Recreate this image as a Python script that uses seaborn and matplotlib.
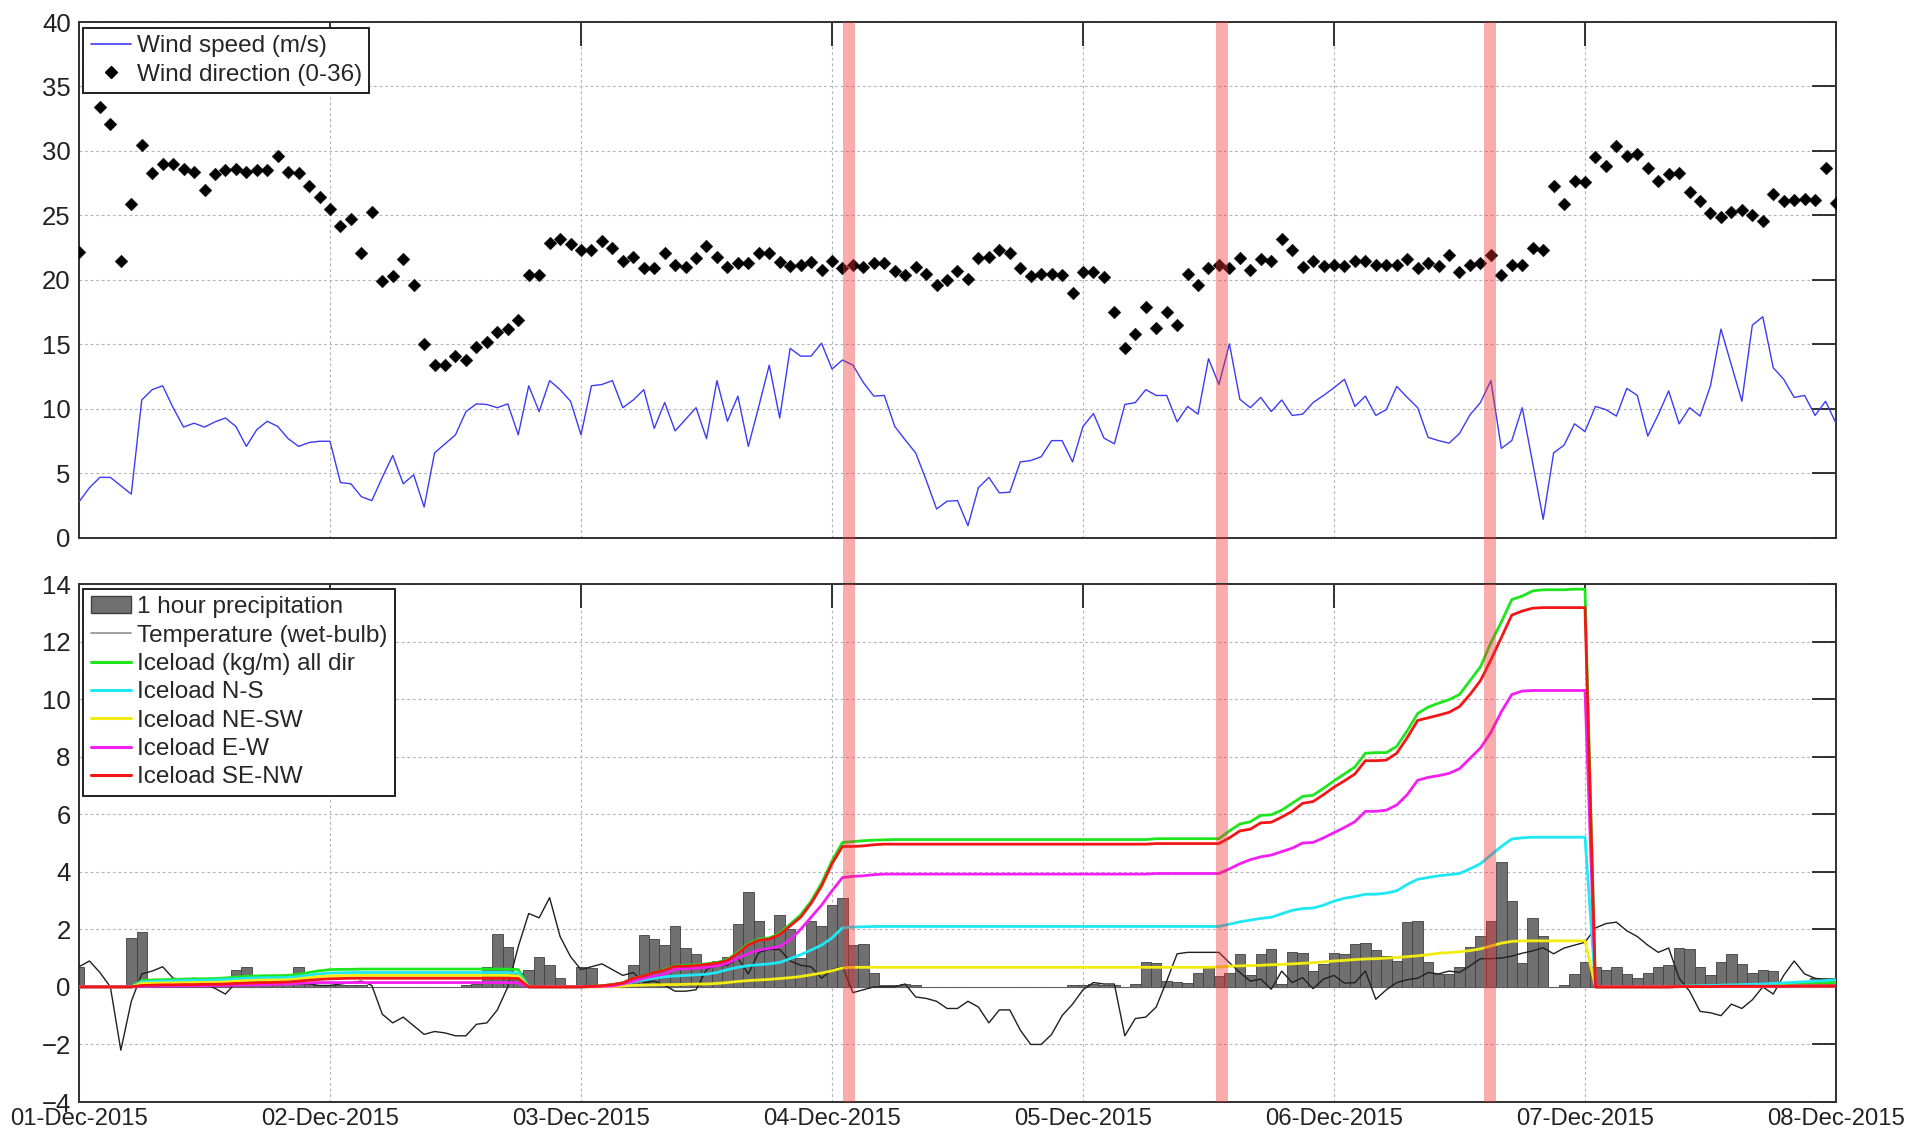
import numpy as np
import pandas as pd
import matplotlib
matplotlib.use("Agg")
import matplotlib.pyplot as plt
from matplotlib import font_manager
from matplotlib.lines import Line2D
from matplotlib.patches import Patch
import seaborn as sns

# ---------------- data (hourly, 01-Dec-2015 00:00 .. 08-Dec-2015 00:00) ----------------
hours = list(range(169))
tick_hours = [0, 24, 48, 72, 96, 120, 144, 168]
tick_labels = ['01-Dec-2015', '02-Dec-2015', '03-Dec-2015', '04-Dec-2015',
               '05-Dec-2015', '06-Dec-2015', '07-Dec-2015', '08-Dec-2015']
event_hours = [73.6, 109.3, 134.9]

wind_speed = [
    2.8, 3.9, 4.7, 4.7, 4.05, 3.4, 10.7, 11.5, 11.8, 10.1,
    8.6, 8.9, 8.6, 9.0, 9.3, 8.65, 7.1, 8.4, 9.05, 8.65,
    7.7, 7.1, 7.4, 7.5, 7.5, 4.3, 4.2, 3.2, 2.9, 4.7,
    6.4, 4.2, 4.9, 2.4, 6.6, 7.3, 8.0, 9.8, 10.4, 10.35,
    10.1, 10.4, 8.0, 11.8, 9.8, 12.2, 11.5, 10.6, 8.0, 11.8,
    11.9, 12.2, 10.1, 10.7, 11.5, 8.5, 10.5, 8.3, 9.2, 10.1,
    7.7, 12.2, 9.05, 11.0, 7.1, 10.2, 13.4, 9.3, 14.7, 14.1,
    14.1, 15.1, 13.1, 13.8, 13.4, 12.05, 11.0, 11.05, 8.65, 7.6,
    6.6, 4.5, 2.25, 2.85, 2.9, 0.95, 3.9, 4.7, 3.5, 3.55,
    5.9, 6.0, 6.3, 7.55, 7.55, 5.9, 8.65, 9.65, 7.75, 7.3,
    10.35, 10.5, 11.5, 11.05, 11.05, 9.0, 10.2, 9.6, 13.9, 11.9,
    15.05, 10.75, 10.1, 10.9, 9.8, 10.7, 9.5, 9.6, 10.5, 11.05,
    11.65, 12.3, 10.2, 11.0, 9.5, 9.95, 11.75, 10.9, 10.1, 7.8,
    7.55, 7.35, 8.1, 9.55, 10.5, 12.2, 6.95, 7.55, 10.1, 5.8,
    1.45, 6.6, 7.2, 8.85, 8.25, 10.2, 9.95, 9.45, 11.6, 11.05,
    7.9, 9.55, 11.4, 8.85, 10.1, 9.45, 11.8, 16.2, 13.4, 10.6,
    16.5, 17.15, 13.2, 12.3, 10.9, 11.05, 9.5, 10.6, 8.9]

wind_dir = [
    22.2, np.nan, 33.4, 32.1, 21.5, 25.9, 30.5, 28.3, 29.0, 29.0,
    28.6, 28.4, 27.0, 28.2, 28.5, 28.6, 28.4, 28.5, 28.5, 29.6,
    28.4, 28.3, 27.3, 26.4, 25.5, 24.2, 24.7, 22.1, 25.3, 19.9,
    20.3, 21.6, 19.6, 15.0, 13.4, 13.4, 14.1, 13.8, 14.8, 15.2,
    16.0, 16.2, 16.9, 20.4, 20.4, 22.9, 23.2, 22.8, 22.3, 22.3,
    23.0, 22.5, 21.5, 21.8, 20.9, 20.9, 22.1, 21.2, 21.0, 21.7,
    22.6, 21.8, 21.0, 21.3, 21.3, 22.1, 22.1, 21.4, 21.1, 21.2,
    21.4, 20.8, 21.5, 20.9, 21.2, 21.0, 21.3, 21.3, 20.7, 20.4,
    21.0, 20.5, 19.6, 20.0, 20.7, 20.1, 21.7, 21.8, 22.3, 22.1,
    20.9, 20.3, 20.5, 20.5, 20.4, 19.0, 20.6, 20.6, 20.2, 17.5,
    14.7, 15.8, 17.9, 16.3, 17.5, 16.5, 20.5, 19.6, 20.9, 21.2,
    20.9, 21.7, 20.8, 21.6, 21.5, 23.2, 22.3, 21.0, 21.5, 21.1,
    21.2, 21.1, 21.5, 21.5, 21.2, 21.2, 21.2, 21.6, 20.9, 21.3,
    21.1, 21.9, 20.6, 21.2, 21.3, 21.9, 20.4, 21.2, 21.2, 22.5,
    22.3, 27.3, 25.9, 27.7, 27.6, 29.5, 28.8, 30.4, 29.6, 29.8,
    28.7, 27.7, 28.2, 28.3, 26.8, 26.1, 25.2, 24.9, 25.3, 25.4,
    25.0, 24.6, 26.7, 26.1, 26.2, 26.3, 26.2, 28.7, 26.0]

precip = [
    0.7, 0.0, 0.0, 0.0, 0.0, 1.7, 1.9, 0.05, 0.05, 0.05,
    0.05, 0.1, 0.05, 0.05, 0.1, 0.58, 0.7, 0.1, 0.1, 0.05,
    0.1, 0.7, 0.1, 0.05, 0.05, 0.05, 0.05, 0.05, 0.0, 0.0,
    0.0, 0.0, 0.0, 0.0, 0.0, 0.0, 0.0, 0.05, 0.1, 0.68,
    1.85, 1.38, 0.5, 0.6, 1.05, 0.75, 0.3, 0.0, 0.7, 0.65,
    0.0, 0.0, 0.15, 0.75, 1.8, 1.65, 1.45, 2.1, 1.35, 1.15,
    0.75, 0.9, 1.05, 2.2, 3.3, 2.3, 1.75, 2.5, 2.0, 1.0,
    2.3, 2.1, 2.85, 3.1, 1.45, 1.5, 0.5, 0.05, 0.05, 0.1,
    0.05, 0.0, 0.0, 0.0, 0.0, 0.0, 0.0, 0.0, 0.0, 0.0,
    0.0, 0.0, 0.0, 0.0, 0.0, 0.05, 0.08, 0.1, 0.08, 0.05,
    0.0, 0.1, 0.85, 0.84, 0.2, 0.18, 0.15, 0.5, 0.67, 0.38,
    0.5, 1.16, 0.4, 1.16, 1.3, 0.1, 1.22, 1.19, 0.55, 0.8,
    1.19, 1.16, 1.48, 1.51, 1.27, 1.07, 0.9, 2.25, 2.3, 0.87,
    0.46, 0.45, 0.7, 1.38, 1.76, 2.3, 4.35, 3.0, 0.82, 2.4,
    1.78, 0.0, 0.07, 0.45, 0.85, 0.7, 0.6, 0.7, 0.45, 0.3,
    0.5, 0.7, 0.75, 1.35, 1.3, 0.7, 0.4, 0.85, 1.15, 0.8,
    0.5, 0.6, 0.55, 0.1, 0.05, 0.2, 0.3, 0.3, 0.3]

temp_wb = [
    0.7, 0.9, 0.5, 0.0, -2.2, -0.5, 0.45, 0.55, 0.7, 0.3,
    0.25, 0.3, 0.1, -0.05, -0.25, 0.15, 0.2, 0.2, 0.15, 0.1,
    0.15, 0.1, 0.1, 0.05, 0.05, 0.1, 0.15, 0.2, 0.05, -0.95,
    -1.25, -1.05, -1.35, -1.65, -1.55, -1.6, -1.7, -1.7, -1.3, -1.25,
    -0.8, 0.0, 1.4, 2.55, 2.4, 3.1, 1.75, 1.05, 0.6, 0.7,
    0.8, 0.6, 0.4, 0.5, 0.15, 0.2, 0.05, -0.15, -0.15, -0.1,
    0.6, 0.8, 0.75, 1.0, 0.45, 1.2, 1.3, 1.3, 0.9, 0.75,
    0.7, 0.3, 0.6, 0.7, -0.2, -0.1, 0.0, 0.0, 0.0, 0.1,
    -0.35, -0.4, -0.5, -0.75, -0.75, -0.5, -0.7, -1.25, -0.8, -0.8,
    -1.5, -2.0, -2.0, -1.65, -1.0, -0.6, -0.1, 0.15, 0.1, 0.1,
    -1.7, -1.1, -1.05, -0.7, 0.2, 1.15, 1.2, 1.2, 1.2, 1.2,
    0.84, 0.5, 0.2, 0.27, -0.08, 0.55, 0.15, 0.32, -0.06, 0.27,
    0.4, 0.13, 0.15, 0.55, -0.43, -0.1, 0.15, 0.25, 0.3, 0.5,
    0.45, 0.55, 0.5, 0.73, 0.98, 0.98, 1.0, 1.07, 1.17, 1.25,
    1.36, 1.15, 1.35, 1.45, 1.55, 2.05, 2.2, 2.25, 1.95, 1.75,
    1.45, 1.2, 1.35, 0.3, -0.15, -0.85, -0.9, -1.0, -0.6, -0.75,
    -0.45, 0.0, -0.25, 0.4, 0.9, 0.45, 0.3, 0.25, 0.25]

ice_all = [
    0.0, 0.0, 0.0, 0.0, 0.0, 0.0, 0.22, 0.24, 0.25, 0.26,
    0.27, 0.28, 0.28, 0.29, 0.31, 0.34, 0.37, 0.38, 0.39, 0.39,
    0.40, 0.44, 0.50, 0.56, 0.60, 0.61, 0.61, 0.62, 0.62, 0.62,
    0.62, 0.62, 0.62, 0.62, 0.62, 0.62, 0.62, 0.62, 0.62, 0.62,
    0.62, 0.62, 0.60, 0.0, 0.0, 0.0, 0.0, 0.0, 0.0, 0.02,
    0.04, 0.08, 0.14, 0.30, 0.38, 0.50, 0.60, 0.74, 0.75, 0.77,
    0.80, 0.85, 0.95, 1.20, 1.50, 1.66, 1.70, 1.86, 2.18, 2.50,
    2.98, 3.60, 4.38, 5.02, 5.05, 5.08, 5.10, 5.11, 5.12, 5.12,
    5.12, 5.12, 5.12, 5.12, 5.12, 5.12, 5.12, 5.12, 5.12, 5.12,
    5.12, 5.12, 5.12, 5.12, 5.12, 5.12, 5.12, 5.12, 5.12, 5.12,
    5.12, 5.12, 5.12, 5.15, 5.15, 5.15, 5.15, 5.15, 5.15, 5.15,
    5.42, 5.66, 5.74, 5.96, 5.98, 6.14, 6.38, 6.62, 6.66, 6.90,
    7.16, 7.40, 7.64, 8.12, 8.14, 8.14, 8.36, 8.90, 9.50, 9.72,
    9.86, 9.98, 10.16, 10.64, 11.12, 11.96, 12.68, 13.46, 13.58, 13.76,
    13.80, 13.80, 13.80, 13.82, 13.82, 0.0, 0.0, 0.0, 0.0, 0.0,
    0.0, 0.0, 0.0, 0.02, 0.03, 0.03, 0.04, 0.05, 0.05, 0.06,
    0.06, 0.07, 0.08, 0.08, 0.10, 0.12, 0.15, 0.15, 0.15]

ice_ns = [
    0.0, 0.0, 0.0, 0.0, 0.0, 0.0, 0.17, 0.19, 0.20, 0.21,
    0.22, 0.23, 0.23, 0.24, 0.26, 0.28, 0.30, 0.31, 0.32, 0.32,
    0.33, 0.36, 0.41, 0.45, 0.48, 0.49, 0.50, 0.50, 0.50, 0.50,
    0.50, 0.50, 0.50, 0.50, 0.50, 0.50, 0.50, 0.50, 0.50, 0.50,
    0.50, 0.50, 0.48, 0.0, 0.0, 0.0, 0.0, 0.0, 0.0, 0.01,
    0.02, 0.03, 0.08, 0.18, 0.24, 0.30, 0.35, 0.38, 0.40, 0.42,
    0.44, 0.50, 0.60, 0.68, 0.74, 0.77, 0.80, 0.85, 0.98, 1.12,
    1.28, 1.45, 1.70, 2.05, 2.08, 2.09, 2.10, 2.10, 2.10, 2.10,
    2.10, 2.10, 2.10, 2.10, 2.10, 2.10, 2.10, 2.10, 2.10, 2.10,
    2.10, 2.10, 2.10, 2.10, 2.10, 2.10, 2.10, 2.10, 2.10, 2.10,
    2.10, 2.10, 2.10, 2.10, 2.10, 2.10, 2.10, 2.10, 2.10, 2.10,
    2.18, 2.26, 2.32, 2.38, 2.42, 2.54, 2.66, 2.72, 2.74, 2.84,
    2.98, 3.08, 3.14, 3.22, 3.22, 3.26, 3.34, 3.56, 3.74, 3.80,
    3.86, 3.90, 3.94, 4.10, 4.28, 4.58, 4.88, 5.14, 5.18, 5.20,
    5.20, 5.20, 5.20, 5.20, 5.20, 0.0, 0.0, 0.0, 0.0, 0.0,
    0.0, 0.0, 0.0, 0.02, 0.03, 0.04, 0.05, 0.06, 0.07, 0.08,
    0.09, 0.10, 0.12, 0.14, 0.16, 0.18, 0.20, 0.22, 0.25]

ice_nesw = [
    0.0, 0.0, 0.0, 0.0, 0.0, 0.0, 0.12, 0.13, 0.14, 0.14,
    0.15, 0.15, 0.16, 0.16, 0.17, 0.20, 0.22, 0.23, 0.24, 0.24,
    0.25, 0.28, 0.32, 0.36, 0.38, 0.39, 0.40, 0.40, 0.40, 0.40,
    0.40, 0.40, 0.40, 0.40, 0.40, 0.40, 0.40, 0.40, 0.40, 0.40,
    0.40, 0.40, 0.38, 0.0, 0.0, 0.0, 0.0, 0.0, 0.0, 0.0,
    0.0, 0.01, 0.03, 0.05, 0.06, 0.07, 0.08, 0.08, 0.09, 0.10,
    0.10, 0.12, 0.15, 0.19, 0.22, 0.24, 0.26, 0.29, 0.32, 0.36,
    0.42, 0.48, 0.56, 0.66, 0.68, 0.68, 0.68, 0.68, 0.68, 0.68,
    0.68, 0.68, 0.68, 0.68, 0.68, 0.68, 0.68, 0.68, 0.68, 0.68,
    0.68, 0.68, 0.68, 0.68, 0.68, 0.68, 0.68, 0.68, 0.68, 0.68,
    0.68, 0.68, 0.68, 0.68, 0.68, 0.68, 0.68, 0.68, 0.68, 0.69,
    0.72, 0.73, 0.74, 0.75, 0.77, 0.78, 0.80, 0.82, 0.84, 0.87,
    0.90, 0.92, 0.95, 0.97, 0.98, 1.00, 1.02, 1.05, 1.08, 1.12,
    1.17, 1.19, 1.22, 1.26, 1.32, 1.42, 1.52, 1.58, 1.60, 1.60,
    1.60, 1.60, 1.60, 1.60, 1.60, 0.0, 0.0, 0.0, 0.0, 0.0,
    0.0, 0.0, 0.0, 0.01, 0.01, 0.01, 0.01, 0.02, 0.02, 0.02,
    0.02, 0.02, 0.02, 0.03, 0.03, 0.03, 0.03, 0.03, 0.03]

ice_ew = [
    0.0, 0.0, 0.0, 0.0, 0.0, 0.0, 0.02, 0.03, 0.03, 0.03,
    0.04, 0.04, 0.04, 0.05, 0.05, 0.06, 0.07, 0.07, 0.08, 0.09,
    0.10, 0.12, 0.14, 0.15, 0.15, 0.15, 0.15, 0.15, 0.15, 0.15,
    0.15, 0.15, 0.15, 0.15, 0.15, 0.15, 0.15, 0.15, 0.15, 0.15,
    0.15, 0.15, 0.14, 0.0, 0.0, 0.0, 0.0, 0.0, 0.0, 0.01,
    0.02, 0.03, 0.10, 0.20, 0.30, 0.38, 0.45, 0.62, 0.63, 0.65,
    0.68, 0.74, 0.82, 1.00, 1.16, 1.28, 1.34, 1.40, 1.64, 2.00,
    2.42, 2.84, 3.34, 3.80, 3.84, 3.86, 3.90, 3.92, 3.92, 3.92,
    3.92, 3.92, 3.92, 3.92, 3.92, 3.92, 3.92, 3.92, 3.92, 3.92,
    3.92, 3.92, 3.92, 3.92, 3.92, 3.92, 3.92, 3.92, 3.92, 3.92,
    3.92, 3.92, 3.92, 3.94, 3.94, 3.94, 3.94, 3.94, 3.94, 3.94,
    4.10, 4.28, 4.42, 4.52, 4.58, 4.70, 4.82, 5.00, 5.02, 5.18,
    5.36, 5.54, 5.74, 6.10, 6.10, 6.14, 6.32, 6.68, 7.18, 7.28,
    7.34, 7.42, 7.58, 7.94, 8.30, 8.84, 9.56, 10.16, 10.28, 10.30,
    10.30, 10.30, 10.30, 10.30, 10.30, 0.0, 0.0, 0.0, 0.0, 0.0,
    0.0, 0.0, 0.0, 0.01, 0.01, 0.01, 0.01, 0.02, 0.02, 0.02,
    0.02, 0.02, 0.02, 0.02, 0.03, 0.03, 0.03, 0.03, 0.03]

ice_senw = [
    0.0, 0.0, 0.0, 0.0, 0.0, 0.0, 0.05, 0.06, 0.07, 0.07,
    0.08, 0.08, 0.09, 0.09, 0.10, 0.12, 0.13, 0.14, 0.15, 0.16,
    0.17, 0.20, 0.23, 0.26, 0.28, 0.29, 0.30, 0.30, 0.30, 0.30,
    0.30, 0.30, 0.30, 0.30, 0.30, 0.30, 0.30, 0.30, 0.30, 0.30,
    0.30, 0.30, 0.29, 0.0, 0.0, 0.0, 0.0, 0.0, 0.0, 0.02,
    0.04, 0.08, 0.14, 0.30, 0.38, 0.50, 0.58, 0.72, 0.72, 0.74,
    0.78, 0.82, 0.92, 1.16, 1.46, 1.62, 1.66, 1.82, 2.12, 2.42,
    2.90, 3.50, 4.28, 4.88, 4.88, 4.90, 4.94, 4.96, 4.96, 4.96,
    4.96, 4.96, 4.96, 4.96, 4.96, 4.96, 4.96, 4.96, 4.96, 4.96,
    4.96, 4.96, 4.96, 4.96, 4.96, 4.96, 4.96, 4.96, 4.96, 4.96,
    4.96, 4.96, 4.96, 4.98, 4.98, 4.98, 4.98, 4.98, 4.98, 4.98,
    5.18, 5.42, 5.48, 5.70, 5.72, 5.90, 6.10, 6.38, 6.44, 6.68,
    6.94, 7.16, 7.40, 7.86, 7.86, 7.88, 8.12, 8.66, 9.26, 9.35,
    9.44, 9.54, 9.74, 10.16, 10.64, 11.36, 12.14, 12.92, 13.06, 13.16,
    13.18, 13.18, 13.18, 13.18, 13.18, 0.0, 0.0, 0.0, 0.0, 0.0,
    0.0, 0.0, 0.0, 0.01, 0.01, 0.01, 0.01, 0.02, 0.02, 0.02,
    0.02, 0.02, 0.02, 0.02, 0.03, 0.03, 0.03, 0.03, 0.03]

ice_series = [
    ('Iceload (kg/m) all dir', ice_all, '#1ee61e'),
    ('Iceload N-S', ice_ns, '#1ee8f5'),
    ('Iceload NE-SW', ice_nesw, '#f2ec12'),
    ('Iceload E-W', ice_ew, '#f21ef2'),
    ('Iceload SE-NW', ice_senw, '#f21616'),
]

# ---------------- style ----------------
sns.set_theme(style='white')
names = {f.name for f in font_manager.fontManager.ttflist}
base_font = 'Liberation Sans' if 'Liberation Sans' in names else 'DejaVu Sans'
plt.rcParams['font.family'] = [base_font, 'DejaVu Sans']

W, H = 1909, 1131
fig = plt.figure(figsize=(W / 100, H / 100), dpi=100)
left, right = 79, 1836
ax1 = fig.add_axes([left / W, 1 - 538 / H, (right - left) / W, (538 - 22) / H])
ax2 = fig.add_axes([left / W, 1 - 1102 / H, (right - left) / W, (1102 - 584) / H])

df = pd.DataFrame({'hour': hours, 'ws': wind_speed, 'wd': wind_dir,
                   'pr': precip, 'tw': temp_wb})

# ---- top panel ----
sns.lineplot(data=df, x='hour', y='ws', ax=ax1, color='#3c3cf5', lw=1.0, zorder=3)
sns.scatterplot(data=df, x='hour', y='wd', ax=ax1, marker='D', s=42,
                color='black', edgecolor='black', linewidth=0.3, zorder=4)

# ---- bottom panel ----
sns.histplot(data=df, x='hour', weights='pr', binwidth=1.0, binrange=(-0.5, 168.5),
             ax=ax2, color='#707070', alpha=1.0, edgecolor='#404040',
             linewidth=0.6, zorder=2)
ax2.axhline(0, color='#606060', lw=0.8, zorder=2.5)
sns.lineplot(data=df, x='hour', y='tw', ax=ax2, color='#202020', lw=1.0, zorder=3)
for name, vals, col in ice_series:
    sns.lineplot(x=hours, y=vals, ax=ax2, color=col, lw=2.0, zorder=4)

# event bands
band_w = 1.15
for c in event_hours:
    ax1.axvspan(c - band_w / 2, c + band_w / 2, ymin=-(584 - 538) / (538 - 22), ymax=1,
                color='#f03030', alpha=0.4, lw=0, zorder=5, clip_on=False)
    ax2.axvspan(c - band_w / 2, c + band_w / 2, color='#f03030', alpha=0.4, lw=0, zorder=5)

# ---- axes formatting ----
for ax in (ax1, ax2):
    ax.set_xlim(0, 168)
    ax.set_xticks(tick_hours)
    ax.set_xlabel('')
    ax.set_ylabel('')
    ax.grid(True, color='#b4b4b4', linestyle=(0, (2.5, 2.5)), lw=0.8)
    ax.tick_params(direction='in', length=17, width=1.3, top=True, right=True,
                   colors='#222222', labelsize=18.5, pad=6)
    for sp in ax.spines.values():
        sp.set_color('#303030')
        sp.set_linewidth(1.4)
        sp.set_visible(True)
    ax.set_axisbelow(True)

ax1.set_ylim(0, 40)
ax1.set_yticks(range(0, 41, 5))
ax1.set_xticklabels([])
ax2.set_ylim(-4, 14)
ax2.set_yticks(range(-4, 15, 2))
ax2.set_xticklabels(tick_labels)
ax2.tick_params(axis='x', pad=4, labelsize=17.2)

# ---- legends ----
leg_kw = dict(loc='upper left', fontsize=17.5, frameon=True, fancybox=False,
              framealpha=1, edgecolor='#202020', borderaxespad=0,
              handlelength=1.65, handletextpad=0.25, labelspacing=0.26,
              borderpad=0.3)
h1 = [Line2D([], [], color='#3c3cf5', lw=1.2),
      Line2D([], [], color='black', marker='D', ls='none', ms=6.5)]
l1 = ax1.legend(h1, ['Wind speed (m/s)', 'Wind direction (0-36)'],
                bbox_to_anchor=(0.0025, 0.988), **leg_kw)
l1.get_frame().set_linewidth(1.4)
l1.set_zorder(10)

h2 = [Patch(facecolor='#707070', edgecolor='#404040'),
      Line2D([], [], color='#909090', lw=1.2)]
l2_labels = ['1 hour precipitation', 'Temperature (wet-bulb)']
for name, vals, col in ice_series:
    h2.append(Line2D([], [], color=col, lw=2.2))
    l2_labels.append(name)
l2 = ax2.legend(h2, l2_labels, bbox_to_anchor=(0.0025, 0.99), **leg_kw)
l2.get_frame().set_linewidth(1.4)
l2.set_zorder(10)

fig.savefig('out.png', dpi=100)
